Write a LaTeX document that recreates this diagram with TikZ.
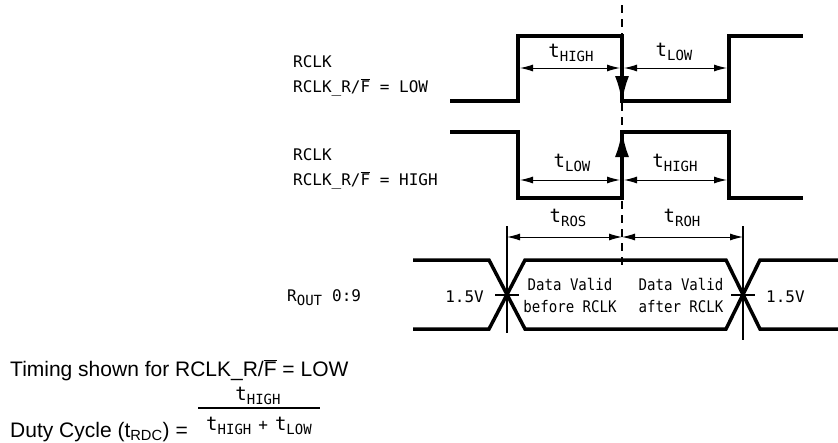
\documentclass[tikz,border=0pt]{standalone}
\usepackage{fontspec}
\setmainfont{Liberation Sans}
\newfontfamily\plotfont{DejaVu Sans Mono}
\usetikzlibrary{arrows.meta,positioning}
\newcommand{\tsb}[1]{{\fontsize{19}{20}\selectfont t}\raisebox{-4pt}{\fontsize{14}{17}\selectfont #1}}
\newcommand{\rfbar}{RCLK\_R/$\overline{\hbox{F}}$}
\newcommand{\narrow}[1]{\scalebox{0.88}[1]{#1}}
\tikzset{
	sig/.style={line width=3.5pt},
	dim/.style={line width=1pt, {Latex[length=13pt,width=7pt]}-{Latex[length=13pt,width=7pt]}},
	edgearrow/.style={line width=3.5pt, -{Latex[length=27pt,width=14pt]}},
	guide/.style={line width=1.3pt},
	lbl/.style={font=\plotfont\fontsize{16}{19}\selectfont, inner sep=0pt},
	note/.style={font=\fontsize{21}{25}\selectfont, inner sep=0pt}
}

\begin{document}
\begin{tikzpicture}[x=1pt,y=-1pt]
	\useasboundingbox (0,0) rectangle (838,442);
	% signal names
	\node[lbl, anchor=base west] (clkA) at (293,67) {RCLK};
	\node[lbl, anchor=base west] (modeA) at ([yshift=-25pt]clkA.base west) {\rfbar{} = LOW};
	\node[lbl, anchor=base west] (clkB) at (293,160) {RCLK};
	\node[lbl, anchor=base west] (modeB) at ([yshift=-25pt]clkB.base west) {\rfbar{} = HIGH};
	\node[lbl, anchor=base west] (rout) at (287,301) {R\raisebox{-4pt}{\fontsize{14}{17}\selectfont OUT}\hspace{10pt}0:9};
	
	% clock waveforms
	\draw[sig] (450,101) -- (518,101) -- (518,36) -- (622,36) -- (622,101) -- (729,101) -- (729,36) -- (803,36);
	\draw[sig] (450,132) -- (518,132) -- (518,198) -- (622,198) -- (622,132) -- (729,132) -- (729,198) -- (803,198);
	\draw[edgearrow] (622,50) -- (622,103);
	\draw[edgearrow] (622,185) -- (622,130);
	
	% output bus
	\draw[sig] (413,260) -- (489,260) -- (525,329) -- (726,329) -- (760,260) -- (838,260);
	\draw[sig] (413,329) -- (489,329) -- (525,260) -- (726,260) -- (760,329) -- (838,329);
	\node[lbl, anchor=base] (dvA) at (570,290) {\narrow{Data Valid}};
	\node[lbl, anchor=base] (dvB) at ([yshift=-22pt]dvA.base) {\narrow{before RCLK}};
	\node[lbl, anchor=base] (dvC) at (681,290) {\narrow{Data Valid}};
	\node[lbl, anchor=base] (dvD) at ([yshift=-22pt]dvC.base) {\narrow{after RCLK}};
	\node[lbl, anchor=base east] (vA) at (484,302) {1.5V};
	\node[lbl, anchor=base west] (vB) at (766,302) {1.5V};
	
	% reference lines
	\draw[guide] (507,226) -- (507,333);
	\draw[guide] (743,226) -- (743,340);
	\draw[guide] (495,295) -- (519,295);
	\draw[guide] (731,295) -- (755,295);
	\draw[guide, dash pattern=on 8pt off 6pt] (622,5) -- (622,268);
	
	% Arrows
	\draw[dim] (520,68) -- (620,68);
	\draw[dim] (624,68) -- (727,68);
	\draw[dim] (520,180) -- (620,180);
	\draw[dim] (624,180) -- (727,180);
	\draw[dim] (507,237) -- (622,237);
	\draw[dim] (622,237) -- (743,237);
	\node[lbl, anchor=base] (thA) at (571,57) {\tsb{HIGH}};
	\node[lbl, anchor=base] (tlA) at (674,56) {\tsb{LOW}};
	\node[lbl, anchor=base] (tlB) at (572,167) {\tsb{LOW}};
	\node[lbl, anchor=base] (thB) at (675,167) {\tsb{HIGH}};
	\node[lbl, anchor=base] (tros) at (568,222) {\tsb{ROS}};
	\node[lbl, anchor=base] (troh) at (682,222) {\tsb{ROH}};
	
	% notes
	\node[note, anchor=base west] (timing) at (10,376) {Timing shown for \rfbar{} = LOW};
	\node[note, anchor=base west] (duty) at (10,437) {Duty Cycle (t\textsubscript{RDC}) =};
	\node[lbl, anchor=base] (num) at (258,400) {\tsb{HIGH}};
	\node[lbl, anchor=base] (den) at (259,430) {\tsb{HIGH}\hspace{7pt}+\hspace{7pt}\tsb{LOW}};
	\draw[line width=1.3pt] (198,408) -- (320,408);
\end{tikzpicture}
\end{document}
